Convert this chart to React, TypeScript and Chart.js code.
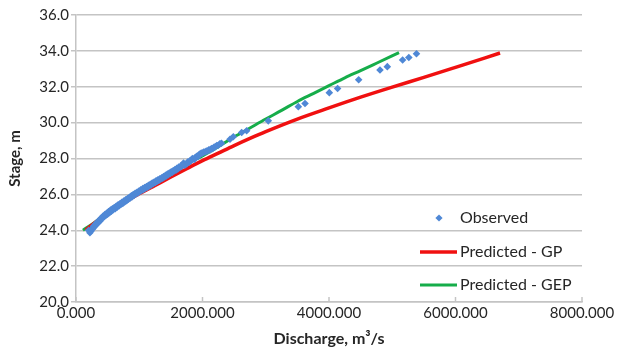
import { useEffect, useRef } from "react";
import { Chart, registerables } from "chart.js";

Chart.register(...registerables);

// Observed discharge (m³/s) and stage (m)
const qObserved = [
  200, 220, 235, 250, 265, 290, 320, 350, 380, 410, 440, 470, 500, 530, 560, 590, 620, 650,
  680, 710, 740, 770, 800, 830, 860, 890, 920, 950, 980, 1010, 1040, 1070, 1100, 1130,
  1160, 1190, 1220, 1250, 1280, 1310, 1340, 1370, 1400, 1430, 1460, 1490, 1520, 1550,
  1580, 1610, 1640, 1670, 1700, 1720, 1750, 1780, 1810, 1840, 1870, 1900, 1930, 1960,
  2000, 2040, 2080, 2120, 2160, 2200, 2250, 2300, 2435, 2487, 2619, 2698, 3040, 3515,
  3621, 4005, 4136, 4469, 4806, 4922, 5164, 5262, 5383,
  // second, denser row of readings
  275, 305, 335, 365, 395, 425, 455, 485, 515, 545, 575, 605, 635, 665, 695, 725, 755, 785,
  815, 845, 875, 905, 935, 965, 995, 1025, 1055, 1085, 1115, 1145, 1175, 1205, 1235, 1265,
  1295, 1325, 1355, 1385, 1415, 1445, 1475, 1505, 1535, 1565, 1595, 1625, 1655, 1685,
  1765, 1795, 1825, 1885, 1915, 1945, 1980, 2020, 2060, 2100, 2140, 2180, 2225, 2275,
];
const hObserved = [
  24.0, 23.86, 23.95, 24.05, 24.08, 24.2, 24.3, 24.42, 24.52, 24.64, 24.74, 24.82, 24.9,
  24.98, 25.06, 25.14, 25.2, 25.29, 25.36, 25.44, 25.5, 25.58, 25.65, 25.73, 25.8, 25.87,
  25.95, 26.02, 26.08, 26.16, 26.22, 26.28, 26.35, 26.4, 26.47, 26.53, 26.6, 26.65, 26.72,
  26.78, 26.84, 26.9, 26.97, 27.03, 27.1, 27.16, 27.22, 27.3, 27.35, 27.42, 27.5, 27.56,
  27.75, 27.62, 27.7, 27.78, 27.85, 28.0, 27.95, 28.08, 28.12, 28.25, 28.3, 28.36, 28.42,
  28.48, 28.55, 28.65, 28.74, 28.85, 29.07, 29.21, 29.45, 29.55, 30.1, 30.89, 31.07, 31.67,
  31.9, 32.39, 32.93, 33.12, 33.49, 33.63, 33.84,
  24.22, 24.33, 24.45, 24.56, 24.67, 24.78, 24.87, 24.95, 25.04, 25.12, 25.2, 25.27, 25.34,
  25.42, 25.48, 25.56, 25.63, 25.7, 25.77, 25.84, 25.92, 25.99, 26.06, 26.12, 26.19, 26.26,
  26.32, 26.38, 26.44, 26.5, 26.56, 26.63, 26.69, 26.75, 26.81, 26.87, 26.93, 27.0, 27.06,
  27.13, 27.19, 27.26, 27.32, 27.39, 27.46, 27.52, 27.58, 27.64,
  27.8, 27.86, 27.92, 28.05, 28.14, 28.2, 28.3, 28.36, 28.42, 28.48, 28.55, 28.62, 28.72,
  28.82,
];

// Predicted - GP
const qGP = [150, 300, 500, 750, 1000, 1250, 1500, 1750, 2000, 2250, 2500, 2750, 3000, 3500, 4000, 4500, 5000, 5500, 6000, 6704];
const hGP = [24.0, 24.42, 24.95, 25.52, 26.03, 26.5, 26.97, 27.43, 27.88, 28.3, 28.72, 29.12, 29.5, 30.2, 30.82, 31.42, 31.98, 32.52, 33.08, 33.88];

// Predicted - GEP
const qGEP = [110, 300, 500, 750, 1000, 1250, 1500, 1750, 2000, 2250, 2500, 2750, 3000, 3250, 3500, 3750, 4000, 4250, 4500, 4750, 5107];
const hGEP = [24.0, 24.45, 25.0, 25.62, 26.17, 26.7, 27.2, 27.7, 28.15, 28.66, 29.2, 29.7, 30.2, 30.68, 31.18, 31.62, 32.06, 32.5, 32.9, 33.31, 33.9];

const xTicks = [0, 2000, 4000, 6000, 8000];
const yMin = 20;
const yMax = 36;
const yStep = 2;

const labelObserved = "Observed";
const labelGP = "Predicted - GP";
const labelGEP = "Predicted - GEP";
const xTitle = "Discharge, m³/s";
const yTitle = "Stage, m";

const toPts = (xs: number[], ys: number[]) => xs.map((x, i) => ({ x, y: ys[i] }));

export default function App() {
  const ref = useRef<HTMLCanvasElement>(null);

  useEffect(() => {
    if (!ref.current) return;
    const textColor = "#262626";
    const gridColor = "#c4c4c4";
    const fontFamily = "Lato, 'Open Sans', sans-serif";

    const xTickPlugin = {
      id: "xInnerTicks",
      afterDraw(chart: any) {
        const ctx = chart.ctx;
        const xs = chart.scales.x;
        const bottom = chart.chartArea.bottom;
        ctx.save();
        ctx.strokeStyle = gridColor;
        ctx.lineWidth = 1.5;
        xs.ticks.forEach((t: any) => {
          const px = xs.getPixelForValue(t.value);
          ctx.beginPath();
          ctx.moveTo(px, bottom);
          ctx.lineTo(px, bottom - 5);
          ctx.stroke();
        });
        ctx.restore();
      },
    };

    const legendPlugin = {
      id: "customLegend",
      afterDraw(chart: any) {
        const ctx = chart.ctx;
        const ds = chart.data.datasets;
        ctx.save();
        ctx.font = `16px ${fontFamily}`;
        ctx.fillStyle = textColor;
        ctx.textBaseline = "middle";
        ctx.textAlign = "left";
        const rows = [218, 252, 285];
        const lineX0 = 420;
        const lineX1 = 457;
        const textX = 460;
        const mx = (lineX0 + lineX1) / 2 + 0.5;
        const my = rows[0];
        const r = 3.6;
        ctx.fillStyle = ds[0].backgroundColor;
        ctx.beginPath();
        ctx.moveTo(mx, my - r);
        ctx.lineTo(mx + r, my);
        ctx.lineTo(mx, my + r);
        ctx.lineTo(mx - r, my);
        ctx.closePath();
        ctx.fill();
        ctx.fillStyle = textColor;
        ctx.fillText(ds[0].label, textX, rows[0]);
        for (let i = 1; i < 3; i++) {
          ctx.strokeStyle = ds[i].borderColor;
          ctx.lineWidth = ds[i].borderWidth;
          ctx.beginPath();
          ctx.moveTo(lineX0, rows[i]);
          ctx.lineTo(lineX1, rows[i]);
          ctx.stroke();
          ctx.fillText(ds[i].label, textX, rows[i]);
        }
        ctx.restore();
      },
    };

    const chart = new Chart(ref.current, {
      type: "scatter",
      data: {
        datasets: [
          {
            label: labelObserved,
            data: toPts(qObserved, hObserved),
            pointStyle: "rectRot",
            pointRadius: 3.8,
            backgroundColor: "#4f88d6",
            borderColor: "#4f88d6",
            borderWidth: 0,
            showLine: false,
          },
          {
            label: labelGP,
            data: toPts(qGP, hGP),
            showLine: true,
            borderColor: "#f01010",
            backgroundColor: "#f01010",
            borderWidth: 3.5,
            pointRadius: 0,
            cubicInterpolationMode: "monotone",
          },
          {
            label: labelGEP,
            data: toPts(qGEP, hGEP),
            showLine: true,
            borderColor: "#16ad4a",
            backgroundColor: "#16ad4a",
            borderWidth: 3,
            pointRadius: 0,
            cubicInterpolationMode: "monotone",
          },
        ],
      } as any,
      options: {
        responsive: false,
        animation: false,
        layout: { padding: { top: 15, right: 42, left: 0, bottom: 0 } },
        plugins: {
          legend: { display: false },
          tooltip: { enabled: false },
        },
        scales: {
          x: {
            type: "linear",
            min: xTicks[0],
            max: xTicks[xTicks.length - 1],
            afterBuildTicks: (s: any) => {
              s.ticks = xTicks.map((v) => ({ value: v }));
            },
            afterFit: (s: any) => {
              s.height = 47;
            },
            ticks: {
              callback: (v: any) => Number(v).toFixed(3),
              font: { family: fontFamily, size: 15 },
              color: textColor,
              padding: 2,
              maxRotation: 0,
            },
            grid: { drawOnChartArea: false, drawTicks: false },
            border: { color: gridColor, width: 1.5 },
            title: {
              display: true,
              text: xTitle,
              font: { family: fontFamily, size: 16, weight: "bold" },
              color: textColor,
              padding: { top: 0, bottom: 1 },
            },
          },
          y: {
            type: "linear",
            min: yMin,
            max: yMax,
            afterFit: (s: any) => {
              s.width = 76;
            },
            ticks: {
              stepSize: yStep,
              callback: (v: any) => Number(v).toFixed(1),
              font: { family: fontFamily, size: 15 },
              color: textColor,
              padding: 2,
            },
            grid: { color: gridColor, lineWidth: 1.5, tickLength: 5 },
            border: { color: gridColor, width: 1.5 },
            title: {
              display: true,
              text: yTitle,
              font: { family: fontFamily, size: 15, weight: "bold" },
              color: textColor,
              padding: { top: 6, bottom: 0 },
            },
          },
        },
      } as any,
      plugins: [xTickPlugin, legendPlugin],
    });
    return () => chart.destroy();
  }, []);

  return (
    <div style={{ position: "fixed", left: 0, top: 0, width: 624, height: 349, background: "#fff" }}>
      <canvas ref={ref} width={624} height={349} style={{ width: 624, height: 349 }} />
    </div>
  );
}
